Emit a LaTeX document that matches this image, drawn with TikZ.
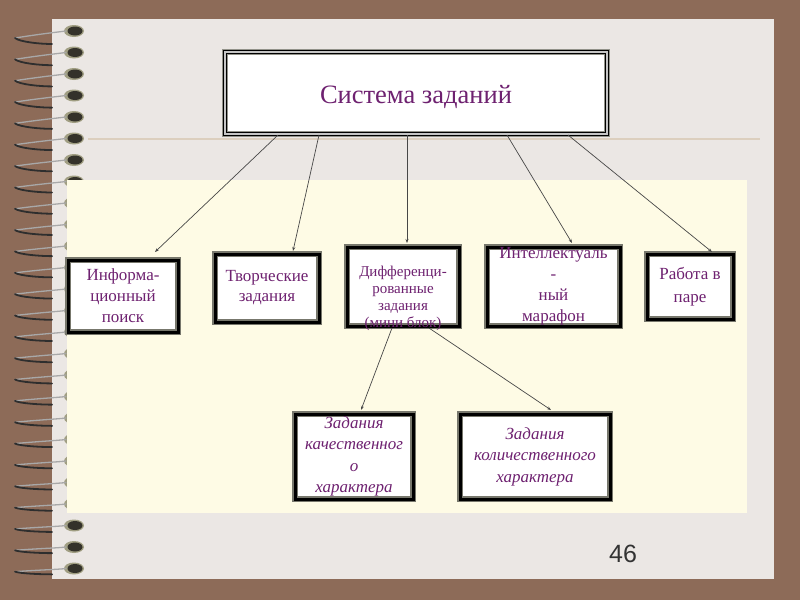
\documentclass[tikz,border=0pt]{standalone}
\usepackage{fontspec}
\setmainfont{Liberation Serif}
\newfontfamily\numfont{Liberation Sans}
\usetikzlibrary{arrows.meta,calc}
\definecolor{bgbrown}{HTML}{8D6B58}
\definecolor{pagec}{HTML}{EBE7E4}
\definecolor{yel}{HTML}{FEFBE5}
\definecolor{txt}{HTML}{6E2170}
\definecolor{rulec}{HTML}{DCCFBE}
\definecolor{framec}{HTML}{77776C}
\definecolor{arrc}{HTML}{474747}
\definecolor{holerim}{HTML}{A09E82}
\definecolor{holedark}{HTML}{34322A}
\definecolor{wiredark}{HTML}{2E2E2E}
\definecolor{wirelight}{HTML}{A8A8A8}
\begin{document}
\begin{tikzpicture}[x=1pt,y=-1pt,
  tbox/.style={preaction={fill=white},preaction={draw=framec,line width=6pt},
    draw=black,line width=3pt,inner sep=0pt,outer sep=0pt,align=center,
    text=txt,font=\fontsize{17}{21}\selectfont},
  topbox/.style={preaction={fill=white},preaction={draw=framec!80,line width=5.5pt},
    draw=black,double=gray!45,double distance=1.4pt,line width=1.2pt,
    inner sep=0pt,outer sep=0pt},
  conn/.style={draw=arrc,line width=0.7pt,-{Stealth[length=4pt,width=3pt]}},
  plain/.style={inner sep=0pt,outer sep=0pt,align=center}]
\useasboundingbox (0,0) rectangle (800,600);
% background and page
\fill[bgbrown] (0,0) rectangle (800,600);
\fill[pagec] (52,19) rectangle (774,579);
% holes and spiral wires
\foreach \k in {0,...,25}{
  \pgfmathsetmacro\yy{31+21.5*\k}
  \pgfmathsetmacro\sp{1-0.55*\k/25}
  \fill[holerim] (74,\yy) ellipse [x radius=10pt,y radius=6pt];
  \fill[holedark] (75,\yy) ellipse [x radius=7.5pt,y radius=4.5pt];
  \draw[wirelight,line width=1.3pt,line cap=round] (66,\yy) .. controls (58,\yy+1) and (40,\yy+3*\sp) .. (15,\yy+7*\sp);
  \draw[wiredark,line width=1.8pt,line cap=round] (15,\yy+7*\sp) .. controls (20,\yy+11*\sp) and (40,\yy+13*\sp) .. (52,\yy+13*\sp);
}
% yellow area and rule
\fill[yel] (67,180) rectangle (747,513);
\draw[rulec,line width=1.5pt] (88,139) -- (760,139);
% boxes
\node[topbox,minimum width=382pt,minimum height=82pt] (top) at (416,93) {};
\node[plain,text=txt,font=\fontsize{26.5}{30}\selectfont] (topt) at (416,97) {Система заданий};
\node[tbox,minimum width=110pt,minimum height=72pt] (b1) at (123,296) {Информа-\\ционный\\поиск};
\node[tbox,minimum width=104pt,minimum height=68pt,font=\fontsize{17}{20}\selectfont] (b2) at (267,288) {Творческие\\задания};
\node[tbox,minimum width=112pt,minimum height=79pt] (b3) at (403,286.5) {};
\node[plain,text=txt,font=\fontsize{15}{17}\selectfont] (b3t) at (403,298) {Дифференци-\\рованные\\задания\\(мини блок)};
\node[tbox,minimum width=133pt,minimum height=79pt] (b4) at (553.5,286.5) {Интеллектуаль\\-\\ный\\марафон};
\node[tbox,minimum width=86pt,minimum height=65pt,font=\fontsize{17}{23}\selectfont] (b5) at (690,286.5) {Работа в\\паре};
\node[tbox,minimum width=118pt,minimum height=85pt,font=\fontsize{17}{21.5}\selectfont\itshape] (b6) at (354,456.5) {Задания\\качественног\\о\\характера};
\node[tbox,minimum width=150pt,minimum height=85pt,font=\fontsize{17}{21.5}\selectfont\itshape] (b7) at (535,456.5) {Задания\\количественного\\характера};
% connectors
\draw[conn] ([xshift=53pt,yshift=-1pt]top.south west) -- ([xshift=87pt,yshift=8pt]b1.north west);
\draw[conn] ([xshift=94pt,yshift=-1pt]top.south west) -- ([xshift=78pt,yshift=3pt]b2.north west);
\draw[conn] ([xshift=182pt,yshift=-1pt]top.south west) -- ([xshift=60pt,yshift=4pt]b3.north west);
\draw[conn] ([xshift=282pt,yshift=-1pt]top.south west) -- ([xshift=85pt,yshift=4pt]b4.north west);
\draw[conn] ([xshift=343pt,yshift=-1pt]top.south west) -- ([xshift=65pt,yshift=2pt]b5.north west);
\draw[conn] ([xshift=45pt,yshift=-2pt]b3.south west) -- ([xshift=66pt,yshift=4pt]b6.north west);
\draw[conn] ([xshift=82pt,yshift=-2pt]b3.south west) -- ([xshift=91pt,yshift=4pt]b7.north west);
% page number
\node[plain,text=black!80,font=\numfont\fontsize{25}{28}\selectfont] (num) at (623,554) {46};
\end{tikzpicture}
\end{document}
